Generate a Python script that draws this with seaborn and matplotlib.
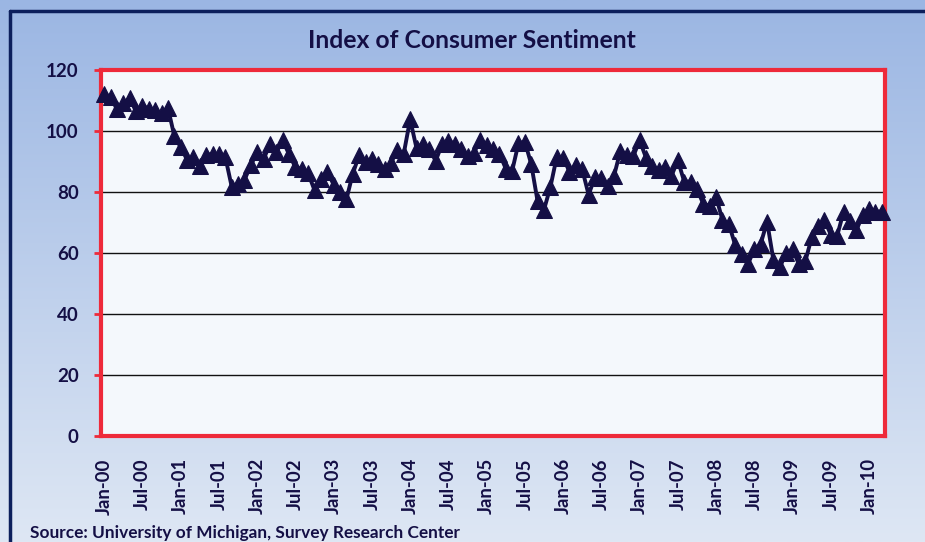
import numpy as np
import pandas as pd
import matplotlib.pyplot as plt
import seaborn as sns
from matplotlib.lines import Line2D

# monthly index, Jan 2000 - Mar 2010
sent_2000 = [112.0, 111.3, 107.1, 109.2, 110.7, 106.4, 108.3, 107.3, 106.8, 105.8, 107.6, 98.4]
sent_2001 = [94.7, 90.6, 91.5, 88.4, 92.0, 92.6, 92.4, 91.5, 81.8, 82.7, 83.9, 88.8]
sent_2002 = [93.0, 90.7, 95.7, 93.0, 96.9, 92.4, 88.1, 87.6, 86.1, 80.6, 84.2, 86.7]
sent_2003 = [82.4, 79.9, 77.6, 86.0, 92.1, 89.7, 90.9, 89.3, 87.7, 89.6, 93.7, 92.6]
sent_2004 = [103.8, 94.4, 95.8, 94.2, 90.2, 95.6, 96.7, 95.9, 94.2, 91.7, 92.8, 97.1]
sent_2005 = [95.5, 94.1, 92.6, 87.7, 86.9, 96.0, 96.5, 89.1, 76.9, 74.2, 81.6, 91.5]
sent_2006 = [91.2, 86.7, 88.9, 87.4, 79.1, 84.9, 84.7, 82.0, 85.4, 93.6, 92.1, 91.7]
sent_2007 = [96.9, 91.3, 88.4, 87.1, 88.3, 85.3, 90.4, 83.4, 83.4, 80.9, 76.1, 75.5]
sent_2008 = [78.4, 70.8, 69.5, 62.6, 59.8, 56.4, 61.2, 63.0, 70.3, 57.6, 55.3, 60.1]
sent_2009 = [61.2, 56.3, 57.3, 65.1, 68.7, 70.8, 66.0, 65.7, 73.5, 70.6, 67.4, 72.5]
sent_2010 = [74.4, 73.6, 73.6]

values = (sent_2000 + sent_2001 + sent_2002 + sent_2003 + sent_2004 + sent_2005
          + sent_2006 + sent_2007 + sent_2008 + sent_2009 + sent_2010)
months = pd.date_range("2000-01-01", periods=len(values), freq="MS")
df = pd.DataFrame({"idx": np.arange(len(values)), "month": months, "sentiment": values})

tick_pos = df["idx"][::6]
tick_labels = [d.strftime("%b-%y") for d in df["month"][::6]]

navy = "#140f45"
red = "#ee2a3a"

sns.set_style("white")
plt.rcParams["font.family"] = ["Lato", "DejaVu Sans"]

fig = plt.figure(figsize=(9.25, 5.42), dpi=100)

# gradient background
bg = fig.add_axes([0, 0, 1, 1], zorder=-10)
grad = np.linspace(0, 1, 256).reshape(-1, 1)
top = np.array([0x9b, 0xb6, 0xe3]) / 255
bot = np.array([0xde, 0xe7, 0xf4]) / 255
img = top + (bot - top) * grad[:, :, None]
bg.imshow(img, aspect="auto", extent=[0, 1, 0, 1])
bg.set_xlim(0, 1)
bg.set_ylim(0, 1)
bg.axis("off")

# outer border (top and left)
fig.add_artist(Line2D([9.5 / 925, 1], [1 - 11 / 542, 1 - 11 / 542], color="#0c1f5c", lw=2.5))
fig.add_artist(Line2D([9.5 / 925, 9.5 / 925], [0, 1 - 11 / 542], color="#0c1f5c", lw=2.5))

ax = fig.add_axes([101 / 925, 1 - 436 / 542, 784 / 925, 366 / 542])
ax.set_facecolor("#f4f8fc")

sns.lineplot(data=df, x="idx", y="sentiment", ax=ax, color=navy, lw=2.8,
             marker="^", markersize=11, markeredgecolor=navy, markerfacecolor=navy)
for ln in ax.lines:
    ln.set_clip_on(False)
    ln.set_zorder(5)

ax.set_ylim(0, 120)
ax.set_xlim(-0.5, len(values) - 0.5)
ax.set_yticks(range(0, 121, 20))
for yv in range(20, 101, 20):
    ax.axhline(yv, color="#111111", lw=1, zorder=0)

ax.set_xticks(tick_pos)
ax.set_xticklabels(tick_labels, rotation=90, fontsize=13.3, fontweight="bold", color=navy)
for lab in ax.get_yticklabels():
    lab.set_fontsize(13.5)
    lab.set_fontweight("bold")
    lab.set_color(navy)

ax.tick_params(axis="y", length=5, width=2, color=red, direction="out", pad=11, left=True)
ax.tick_params(axis="x", length=0, pad=16)

for s in ax.spines.values():
    s.set_color(red)
    s.set_linewidth(3)
    s.set_zorder(4)

ax.set_xlabel("")
ax.set_ylabel("")

fig.text(472 / 925, 1 - 40 / 542, "Index of Consumer Sentiment", ha="center", va="center",
         fontsize=17.8, fontweight="bold", color=navy)
fig.text(30 / 925, 1 - 533 / 542, "Source: University of Michigan, Survey Research Center",
         ha="left", va="center", fontsize=12.4, fontweight="bold", color=navy)

fig.savefig("out.png", dpi=100)
